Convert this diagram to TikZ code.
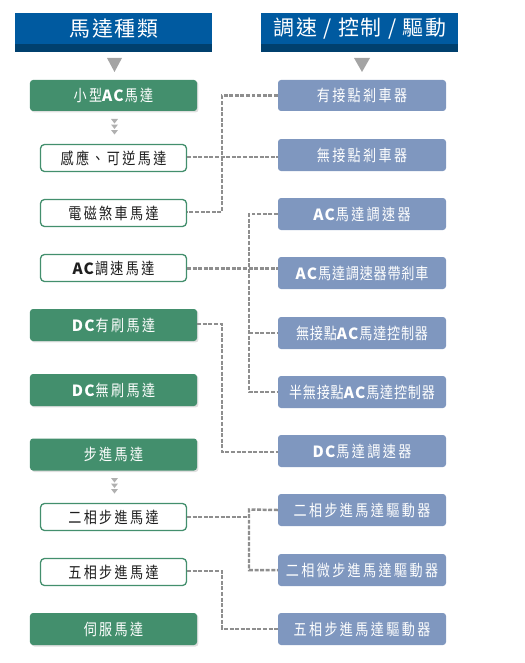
\documentclass[tikz,border=0pt]{standalone}
\usepackage{fontspec}
\usetikzlibrary{shadows}
\newfontfamily\cjk[LetterSpace=15,FakeStretch=0.82]{Noto Sans CJK TC}
\newfontfamily\cjkt[LetterSpace=5,FakeStretch=0.82]{Noto Sans CJK TC}
\newfontfamily\cjkh[LetterSpace=8]{Noto Sans CJK TC}
\newfontfamily\acfont[LetterSpace=8]{Noto Sans CJK TC}
\definecolor{hdrblue}{HTML}{005AA0}
\definecolor{hdrdark}{HTML}{00406E}
\definecolor{mgreen}{HTML}{438F6D}
\definecolor{cblue}{HTML}{7F97BF}
\definecolor{lgray}{HTML}{8E8E8E}
\definecolor{tgray}{HTML}{1E1E1E}
\tikzset{
  boxfont/.style={font=\cjk\fontsize{16}{17}\selectfont},
  greenbox/.style={fill=mgreen, rounded corners=3pt, text=white, boxfont,
    drop shadow={opacity=0.25, shadow xshift=1.5pt, shadow yshift=-1.5pt}},
  linebox/.style={draw=mgreen, line width=1.3pt, fill=white, rounded corners=4pt, text=tgray, boxfont},
  ctrlbox/.style={fill=cblue, rounded corners=3pt, text=white, boxfont, inner xsep=1pt},
  tightfont/.style={font=\cjkt\fontsize{16}{17}\selectfont},
  conn/.style={draw=lgray, line width=2.5pt, dash pattern=on 4pt off 1.6pt},
}
\newcommand{\bx}[1]{{\acfont\bfseries\fontsize{15.5}{17}\selectfont #1}\hspace{1bp}}
\begin{document}
\begin{tikzpicture}[x=1bp,y=-1bp]
\useasboundingbox (0,0) rectangle (525,663);
% headers
\fill[hdrblue] (15,13) rectangle (212,52);
\fill[hdrdark] (15,44) rectangle (212,52);
\node[text=white, font=\cjkh\fontsize{21}{22}\selectfont] (h1) at (114,29) {馬達種類};
\fill[hdrblue] (261,13) rectangle (458,52);
\fill[hdrdark] (261,44) rectangle (458,52);
\node[text=white, font=\cjkh\fontsize{21}{22}\selectfont] (h2) at (360,29) {調速 / 控制 / 驅動};
% big triangles
\fill[lgray!80] (107,58) -- (122,58) -- (114.5,72) -- cycle;
\fill[lgray!80] (354,58) -- (370,58) -- (362,72) -- cycle;
% small triple triangles
\foreach \y in {119,124.5,130}{
  \fill[lgray!70] (111,\y) -- (118,\y) -- (114.5,\y+4.5) -- cycle;
}
\foreach \y in {478,483.5,489}{
  \fill[lgray!70] (111,\y) -- (118,\y) -- (114.5,\y+4.5) -- cycle;
}
% connector corners
\coordinate (c1a) at (222,95.5);
\coordinate (c1b) at (222,212);
\coordinate (c2a) at (249,214);
\coordinate (c2d) at (249,392);
\coordinate (c3a) at (222,324);
\coordinate (c3b) at (222,452);
\coordinate (c4a) at (249,509.5);
\coordinate (c4b) at (249,570);
\coordinate (c5a) at (222,571);
\coordinate (c5b) at (222,629);

% left boxes
\node[greenbox, minimum width=167bp, minimum height=31bp] (m1) at (113.5,95.5) {小型\bx{AC}馬達};
\node[linebox, minimum width=146bp, minimum height=27bp] (m2) at (113.5,158) {感應、可逆馬達};
\node[linebox, minimum width=146bp, minimum height=27bp] (m3) at (113.5,213) {電磁煞車馬達};
\node[linebox, minimum width=146bp, minimum height=27bp] (m4) at (113.5,268) {\bx{AC}調速馬達};
\node[greenbox, minimum width=167bp, minimum height=32bp] (m5) at (113.5,325) {\bx{DC}有刷馬達};
\node[greenbox, minimum width=167bp, minimum height=32bp] (m6) at (113.5,390) {\bx{DC}無刷馬達};
\node[greenbox, minimum width=167bp, minimum height=32bp] (m7) at (113.5,454.5) {步進馬達};
\node[linebox, minimum width=146bp, minimum height=27bp] (m8) at (113.5,517) {二相步進馬達};
\node[linebox, minimum width=146bp, minimum height=27bp] (m9) at (113.5,572) {五相步進馬達};
\node[greenbox, minimum width=167bp, minimum height=32bp] (m10) at (113.5,629) {伺服馬達};

% right boxes
\node[ctrlbox, minimum width=168bp, minimum height=31bp] (r1) at (362,95.5) {有接點剎車器};
\node[ctrlbox, minimum width=168bp, minimum height=32bp] (r2) at (362,155) {無接點剎車器};
\node[ctrlbox, minimum width=168bp, minimum height=32bp] (r3) at (362,214) {\bx{AC}馬達調速器};
\node[ctrlbox, minimum width=168bp, minimum height=32bp, tightfont] (r4) at (362,273) {\bx{AC}馬達調速器帶剎車};
\node[ctrlbox, minimum width=168bp, minimum height=32bp, tightfont] (r5) at (362,333) {無接點\bx{AC}馬達控制器};
\node[ctrlbox, minimum width=168bp, minimum height=32bp, tightfont] (r6) at (362,392) {半無接點\bx{AC}馬達控制器};
\node[ctrlbox, minimum width=168bp, minimum height=32bp] (r7) at (362,451) {\bx{DC}馬達調速器};
\node[ctrlbox, minimum width=168bp, minimum height=32bp] (r8) at (362,510) {二相步進馬達驅動器};
\node[ctrlbox, minimum width=168bp, minimum height=32bp] (r9) at (362,570) {二相微步進馬達驅動器};
\node[ctrlbox, minimum width=168bp, minimum height=32bp] (r10) at (362,629) {五相步進馬達驅動器};

% connectors
\draw[conn] (r1.west) -- (c1a) -- (c1b) -- (m3.east |- c1b);
\draw[conn] (m2.east |- 0,157) -- (r2.west |- 0,157);
\draw[conn] (r3.west) -- (c2a) -- (c2d) -- (r6.west);
\draw[conn] (c2a |- 0,333) -- (r5.west);
\draw[conn] (m4.east |- 0,268.5) -- (r4.west |- 0,268.5);
\draw[conn] (m5.east |- 0,324) -- (c3a) -- (c3b) -- (r7.west |- c3b);
\draw[conn] (m8.east |- 0,517) -- (c4a |- 0,517);
\draw[conn] (r8.west) -- (c4a) -- (c4b) -- (r9.west);
\draw[conn] (m9.east |- c5a) -- (c5a) -- (c5b) -- (r10.west);
\end{tikzpicture}
\end{document}
